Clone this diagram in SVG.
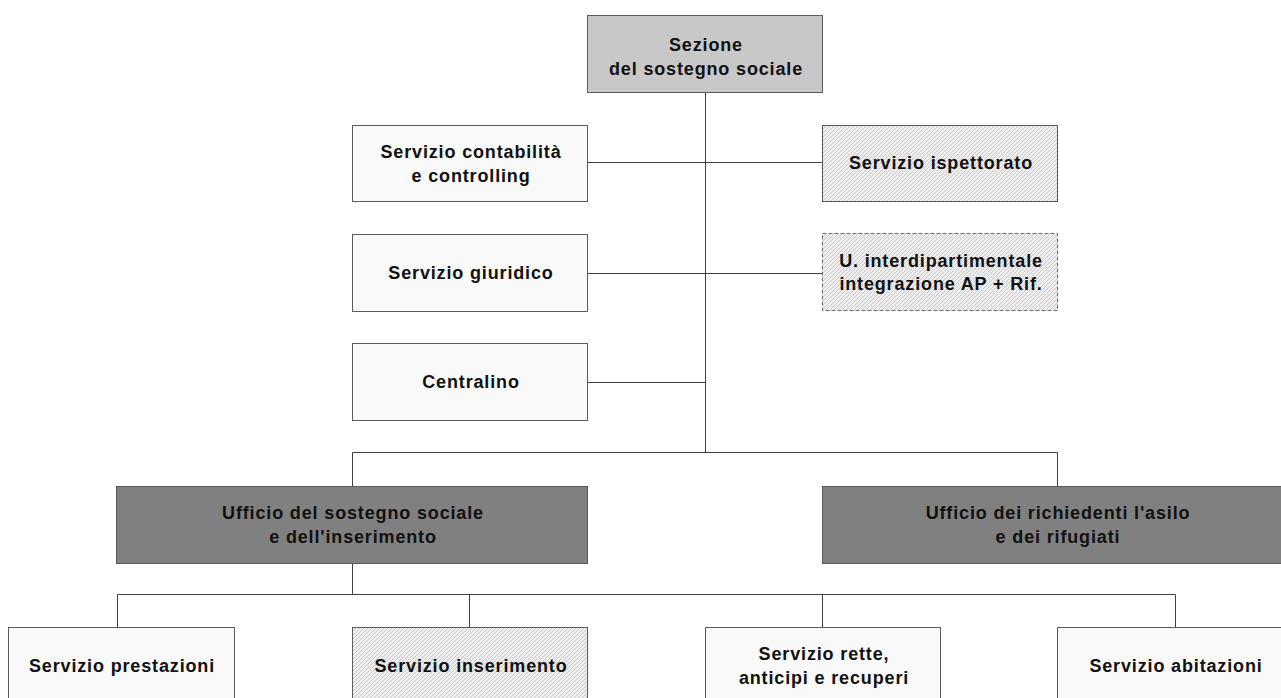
<svg xmlns="http://www.w3.org/2000/svg" width="1281" height="698" viewBox="0 0 1281 698">
  <style>
    .box { stroke: #5a5a5a; stroke-width: 1; }
    .white { fill: #f9f9f9; }
    .top { fill: #c8c8c8; }
    .dark { fill: #808080; }
    .hatch { fill: url(#hatch); }
    .dashed { stroke-dasharray: 4 2; stroke: #707070; }
    .lbl { font-family: "Liberation Sans", Arial, sans-serif; font-size: 18px; font-weight: bold; fill: #111; text-anchor: middle; letter-spacing: 0.85px; }
    .conn { stroke: #404040; stroke-width: 1; fill: none; }
  </style>
  <defs>
    <pattern id="hatch" patternUnits="userSpaceOnUse" width="4" height="4">
      <rect width="4" height="4" fill="#ededed"/>
      <path d="M-1,1 l2,-2 M0,4 l4,-4 M3,5 l2,-2" stroke="#c4c4c4" stroke-width="0.8"/>
    </pattern>
  </defs>
  <rect width="1281" height="698" fill="#ffffff"/>

  <g id="connectors">
    <path class="conn" d="M705.5,92 V452.5"/>
    <path class="conn" d="M587,162.5 H822"/>
    <path class="conn" d="M587,273.5 H822"/>
    <path class="conn" d="M587,382.5 H705.5"/>
    <path class="conn" d="M352.5,486 V452.5 H1057.5 V486"/>
    <path class="conn" d="M352.5,563 V594.5"/>
    <path class="conn" d="M117.5,627 V594.5 H1175.5 V627"/>
    <path class="conn" d="M469.5,594.5 V627"/>
    <path class="conn" d="M822.5,594.5 V627"/>
  </g>

  <g id="n-sezione">
    <rect class="box top" x="587.5" y="15.5" width="235" height="77"/>
    <text class="lbl" x="706" y="51">Sezione</text>
    <text class="lbl" x="706" y="75">del sostegno sociale</text>
  </g>

  <g id="n-contabilita">
    <rect class="box white" x="352.5" y="125.5" width="235" height="76"/>
    <text class="lbl" x="471" y="158">Servizio contabilità</text>
    <text class="lbl" x="471" y="182">e controlling</text>
  </g>

  <g id="n-ispettorato">
    <rect class="box hatch" x="822.5" y="125.5" width="235" height="76"/>
    <text class="lbl" x="941" y="169">Servizio ispettorato</text>
  </g>

  <g id="n-giuridico">
    <rect class="box white" x="352.5" y="234.5" width="235" height="77"/>
    <text class="lbl" x="471" y="279">Servizio giuridico</text>
  </g>

  <g id="n-interdip">
    <rect class="box hatch dashed" x="822.5" y="233.5" width="235" height="77"/>
    <text class="lbl" x="941" y="267">U. interdipartimentale</text>
    <text class="lbl" x="941" y="290">integrazione AP + Rif.</text>
  </g>

  <g id="n-centralino">
    <rect class="box white" x="352.5" y="343.5" width="235" height="77"/>
    <text class="lbl" x="471" y="388">Centralino</text>
  </g>

  <g id="n-ufficio-sostegno">
    <rect class="box dark" x="116.5" y="486.5" width="471" height="77"/>
    <text class="lbl" x="353" y="519">Ufficio del sostegno sociale</text>
    <text class="lbl" x="353" y="543">e dell'inserimento</text>
  </g>

  <g id="n-ufficio-asilo">
    <rect class="box dark" x="822.5" y="486.5" width="471" height="77"/>
    <text class="lbl" x="1058" y="519">Ufficio dei richiedenti l'asilo</text>
    <text class="lbl" x="1058" y="543">e dei rifugiati</text>
  </g>

  <g id="n-prestazioni">
    <rect class="box white" x="8.5" y="627.5" width="226" height="80"/>
    <text class="lbl" x="122" y="672">Servizio prestazioni</text>
  </g>

  <g id="n-inserimento">
    <rect class="box hatch" x="352.5" y="627.5" width="235" height="80"/>
    <text class="lbl" x="471" y="672">Servizio inserimento</text>
  </g>

  <g id="n-rette">
    <rect class="box white" x="705.5" y="627.5" width="235" height="80"/>
    <text class="lbl" x="824" y="660">Servizio rette,</text>
    <text class="lbl" x="824" y="684">anticipi e recuperi</text>
  </g>

  <g id="n-abitazioni">
    <rect class="box white" x="1057.5" y="627.5" width="235" height="80"/>
    <text class="lbl" x="1176" y="672">Servizio abitazioni</text>
  </g>
</svg>
